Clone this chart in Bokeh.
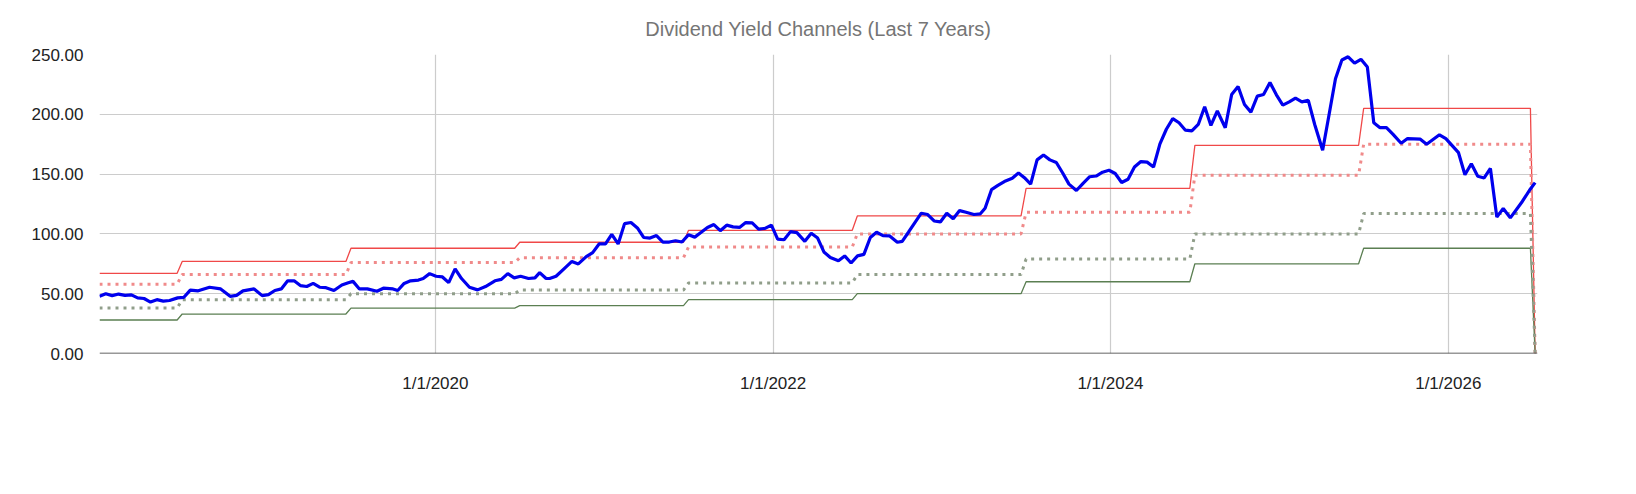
import pandas as pd
from bokeh.plotting import figure
from bokeh.models import Legend, LegendItem, FixedTicker, DatetimeTickFormatter, NumeralTickFormatter, Range1d, Span
from bokeh.embed import file_html
from bokeh.resources import INLINE

# BMI (decimal year, value)
bmi_t = [2018.010,2018.047,2018.085,2018.123,2018.161,2018.199,2018.236,2018.274,2018.312,2018.350,2018.388,2018.425,2018.473,2018.510,
 2018.548,2018.595,2018.662,2018.728,2018.784,2018.822,2018.860,2018.926,2018.974,2019.011,2019.049,2019.087,2019.125,2019.163,
 2019.200,2019.238,2019.276,2019.314,2019.352,2019.399,2019.446,2019.484,2019.512,2019.550,2019.597,2019.654,2019.692,2019.749,
 2019.777,2019.815,2019.853,2019.900,2019.928,2019.966,2020.004,2020.042,2020.079,2020.117,2020.155,2020.202,2020.250,2020.297,
 2020.353,2020.391,2020.429,2020.467,2020.505,2020.552,2020.590,2020.618,2020.656,
 2020.677,2020.715,2020.762,2020.809,2020.847,2020.894,2020.932,2020.970,2021.008,2021.045,2021.083,2021.121,2021.159,2021.197,
 2021.234,2021.272,2021.310,2021.348,2021.386,2021.423,2021.461,2021.499,2021.537,2021.575,2021.612,2021.650,2021.688,2021.726,
 2021.764,2021.802,2021.839,2021.877,2021.915,2021.953,2021.991,2022.028,2022.066,2022.104,2022.142,2022.189,2022.227,2022.265,
 2022.302,2022.340,2022.388,2022.425,2022.463,2022.501,2022.539,2022.577,2022.614,2022.652,2022.690,2022.737,2022.766,2022.803,
 2022.841,2022.879,2022.917,2022.955,2022.992,2023.030,2023.068,2023.106,2023.144,2023.191,2023.229,2023.257,2023.295,2023.333,
 2023.371,2023.418,2023.455,
 2023.490,2023.527,2023.565,2023.603,2023.641,2023.679,2023.716,2023.754,2023.798,2023.839,2023.877,2023.915,2023.953,2023.991,
 2024.028,2024.066,2024.104,2024.142,2024.180,2024.217,2024.255,2024.293,2024.331,2024.369,2024.406,2024.444,2024.482,2024.520,
 2024.558,2024.595,2024.633,2024.680,2024.718,2024.756,2024.794,2024.832,2024.870,2024.907,2024.945,2024.983,2025.021,2025.059,
 2025.096,2025.134,2025.172,2025.210,2025.257,2025.295,2025.333,2025.371,2025.408,2025.446,2025.484,2025.522,2025.560,2025.597,
 2025.635,2025.673,
 2025.722,2025.760,2025.836,2025.873,2025.949,2025.987,2026.062,2026.100,2026.138,2026.176,2026.214,2026.251,2026.289,2026.327,
 2026.369,2026.440,2026.488,2026.516]
bmi_v = [47.8,50.0,48.4,49.7,48.6,49.0,46.5,46.0,43.0,45.0,43.8,44.3,46.5,47.0,
 53.0,52.4,55.4,54.0,47.8,48.6,52.4,54.0,48.4,49.2,52.7,54.0,60.8,60.8,
 56.8,56.0,58.6,55.4,55.0,52.7,57.3,59.2,60.3,54.0,54.0,52.0,54.6,54.0,
 52.7,58.6,60.8,61.4,62.7,66.8,64.6,64.0,59.2,70.8,62.7,55.4,53.2,56.0,
 60.8,62.0,66.8,63.2,64.6,62.7,63.2,67.6,62.7,
 62.7,64.6,70.8,77.0,74.9,81.0,84.3,91.6,91.6,99.7,91.6,108.6,109.5,105.0,
 97.0,96.5,98.6,93.2,93.2,94.3,93.2,99.2,97.3,101.4,105.4,107.8,102.7,107.3,
 105.9,105.4,109.5,109.2,104.0,104.6,107.3,95.7,95.1,101.9,101.1,93.8,100.5,96.5,
 84.9,80.3,77.6,81.6,75.7,81.6,82.9,97.0,101.4,98.6,98.4,93.0,93.8,101.4,
 109.5,117.3,116.2,110.8,110.0,117.3,112.7,119.5,118.1,116.2,116.8,121.4,137.0,140.5,
 143.8,146.5,151.0,
 147.0,141.6,161.9,165.9,161.9,159.7,151.1,141.6,136.3,142.5,147.8,148.4,151.6,153.2,
 150.5,143.0,145.7,155.9,160.5,160.0,155.9,175.3,187.5,196.4,192.9,186.7,186.1,191.5,
 206.3,190.7,202.8,188.8,216.6,223.3,208.2,201.8,215.2,216.6,226.5,216.3,207.7,210.4,
 213.6,210.4,211.7,191.5,170.0,199.6,229.8,245.4,248.1,242.7,246.0,239.5,192.9,188.8,
 188.8,183.4,
 175.8,179.7,179.2,175.0,182.9,179.7,167.9,149.5,158.7,148.2,146.8,154.7,114.0,121.3,
 113.4,127.1,137.6,142.9]

# Yearly channel levels (each starts around July)
step_years = [2018, 2019, 2020, 2021, 2022, 2023, 2024, 2025]
overvalued = [67, 77, 88, 93, 103, 115, 138, 174, 205]
p75 = [58, 66, 76, 80, 89, 100, 118, 149, 175]
p25 = [38, 45, 50, 53, 59, 66, 79, 100, 117]
undervalued = [28, 33, 38, 40, 45, 50, 60, 75, 88]
start_t, last_t, end_t = 2018.010, 2026.488, 2026.516
x_ticks = ["2020-01-01", "2022-01-01", "2024-01-01", "2026-01-01"]
y_ticks = [0, 50, 100, 150, 200, 250]


def to_ms(yrs):
    base = pd.Timestamp("2020-01-01")
    return [(base + pd.Timedelta(days=(y - 2020) * 365.25)).value / 1e6 for y in yrs]


def channel(levels):
    ts, vs = [start_t], [levels[0]]
    for i, y in enumerate(step_years):
        ts += [y + 0.47, y + 0.50]
        vs += [levels[i], levels[i + 1]]
    ts += [last_t, end_t]
    vs += [levels[-1], 0]
    return to_ms(ts), vs


FONT = "Liberation Sans"
x0, x1 = to_ms([start_t, 2026.53])
p = figure(frame_width=1438, frame_height=299, x_axis_type="datetime", output_backend="svg",
           toolbar_location=None, title="Dividend Yield Channels (Last 7 Years)",
           x_range=Range1d(x0, x1), y_range=Range1d(0, 250),
           min_border_left=99, min_border_right=83, min_border_top=10, min_border_bottom=10)
p.outline_line_color = None

p.title.align = "center"
p.title.text_color = "#757575"
p.title.text_font = FONT
p.title.text_font_style = "normal"
p.title.text_font_size = "20px"
p.title.standoff = 30

r_over = p.line(*channel(overvalued), line_color="#f04848", line_width=1.3)
r_under = p.line(*channel(undervalued), line_color="#5b7f52", line_width=1.3)
r_75 = p.line(*channel(p75), line_color="#f08a8a", line_width=3, line_dash="3 5")
r_25 = p.line(*channel(p25), line_color="#909e8a", line_width=3, line_dash="3 5")
r_bmi = p.line(to_ms(bmi_t), bmi_v, line_color="#0000ee", line_width=3.2)

p.add_layout(Span(location=0, dimension="width", line_color="#333333", line_width=1.5))

p.yaxis.ticker = FixedTicker(ticks=y_ticks)
p.yaxis.formatter = NumeralTickFormatter(format="0.00")
p.xaxis.ticker = FixedTicker(ticks=[t.value / 1e6 for t in pd.to_datetime(x_ticks)])
p.xaxis.formatter = DatetimeTickFormatter(years="1/1/%Y", months="1/1/%Y", days="1/1/%Y")
for ax in (p.xaxis, p.yaxis):
    ax.axis_line_color = None
    ax.major_tick_line_color = None
    ax.minor_tick_line_color = None
    ax.major_label_text_font = FONT
    ax.major_label_text_font_size = "17px"
    ax.major_label_text_color = "#222222"
p.xaxis.major_label_standoff = 14
p.yaxis.major_label_standoff = 10
p.grid.grid_line_color = "#cccccc"
p.grid.grid_line_width = 1.2

legend = Legend(items=[
    LegendItem(label="BMI", renderers=[r_bmi]),
    LegendItem(label="Overvalued Yield", renderers=[r_over]),
    LegendItem(label="Undervalued Yield", renderers=[r_under]),
    LegendItem(label="75th Percentile (25% to Overvalued)", renderers=[r_75]),
    LegendItem(label="25th Percentile (25% to Undervalued)", renderers=[r_25]),
], orientation="horizontal", location="center", border_line_color=None,
    label_text_font=FONT, label_text_font_size="17px", label_text_color="#222222",
    glyph_width=24, spacing=22, margin=6, padding=4)
p.add_layout(legend, "below")

open("out.html", "w").write(file_html(p, INLINE))
